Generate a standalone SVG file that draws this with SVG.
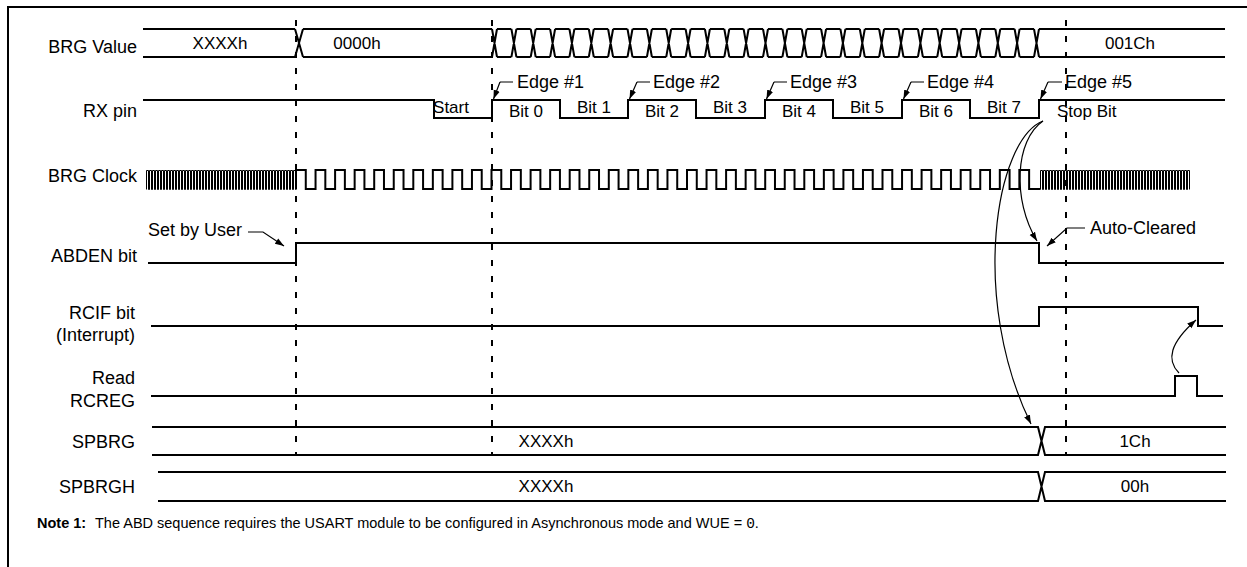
<svg xmlns="http://www.w3.org/2000/svg" width="1247" height="567" viewBox="0 0 1247 567">
<defs>
<style>
.w{fill:none;stroke:#000;stroke-width:2}
.t{fill:none;stroke:#000;stroke-width:1.2}
.f{fill:none;stroke:#000;stroke-width:1}
.d{fill:none;stroke:#000;stroke-width:2;stroke-dasharray:6 10}
.lb{font-family:"Liberation Sans",Arial,sans-serif;font-size:18px;fill:#000}
.tx{font-family:"Liberation Sans",Arial,sans-serif;font-size:17px;fill:#000}
.c{text-anchor:middle}
.e{text-anchor:end}
.nt{font-family:"Liberation Sans",Arial,sans-serif;font-size:14.5px;fill:#000}
</style>
<marker id="ah" viewBox="0 0 10 10" refX="10" refY="5" markerWidth="9" markerHeight="9" markerUnits="userSpaceOnUse" orient="auto">
<path d="M0,1.5 L10,5 L0,8.5 z" fill="#000"/>
</marker>
</defs>
<rect x="0" y="0" width="1247" height="567" fill="#fff"/>
<rect id="frame" x="8" y="7" width="1260" height="580" fill="none" stroke="#000" stroke-width="2"/>

<g id="markers-dashed">
<path class="d" d="M296,20 V455 M492,20 V455 M1066,20 V455"/>
</g>

<g id="row-brg-value">
<text class="lb e" x="137" y="53">BRG Value</text>
<path class="w" d="M143,29 H295 M143,57 H295 M295,29 L303,57 M295,57 L303,29 M303,29 H492 M303,57 H492 M1039,29 H1225 M1039,57 H1225"/>
<path class="w" stroke-dasharray="14.357 5" d="M497,29 H1034 M497,57 H1034"/>
<path class="w" d="M492,29l5,28M492,57l5,-28M511.4,29l5,28M511.4,57l5,-28M530.7,29l5,28M530.7,57l5,-28M550.1,29l5,28M550.1,57l5,-28M569.4,29l5,28M569.4,57l5,-28M588.8,29l5,28M588.8,57l5,-28M608.1,29l5,28M608.1,57l5,-28M627.5,29l5,28M627.5,57l5,-28M646.9,29l5,28M646.9,57l5,-28M666.2,29l5,28M666.2,57l5,-28M685.6,29l5,28M685.6,57l5,-28M704.9,29l5,28M704.9,57l5,-28M724.3,29l5,28M724.3,57l5,-28M743.6,29l5,28M743.6,57l5,-28M763,29l5,28M763,57l5,-28M782.4,29l5,28M782.4,57l5,-28M801.7,29l5,28M801.7,57l5,-28M821.1,29l5,28M821.1,57l5,-28M840.4,29l5,28M840.4,57l5,-28M859.8,29l5,28M859.8,57l5,-28M879.1,29l5,28M879.1,57l5,-28M898.5,29l5,28M898.5,57l5,-28M917.9,29l5,28M917.9,57l5,-28M937.2,29l5,28M937.2,57l5,-28M956.6,29l5,28M956.6,57l5,-28M975.9,29l5,28M975.9,57l5,-28M995.3,29l5,28M995.3,57l5,-28M1014.6,29l5,28M1014.6,57l5,-28M1034,29l5,28M1034,57l5,-28"/>
<text class="tx c" x="220" y="49">XXXXh</text>
<text class="tx c" x="357" y="49">0000h</text>
<text class="tx c" x="1130" y="49">001Ch</text>
</g>

<g id="row-rx-pin">
<text class="lb e" x="137" y="117">RX pin</text>
<path class="w" d="M143,100 H434 V118 H492 V100 H560 V118 H628 V100 H696 V118 H765 V100 H833 V118 H902 V100 H970 V118 H1039 V100 H1225"/>
<text class="tx c" x="451" y="113">Start</text>
<text class="tx c" x="526" y="117">Bit 0</text>
<text class="tx c" x="594" y="113">Bit 1</text>
<text class="tx c" x="662" y="117">Bit 2</text>
<text class="tx c" x="730" y="113">Bit 3</text>
<text class="tx c" x="799" y="117">Bit 4</text>
<text class="tx c" x="867" y="113">Bit 5</text>
<text class="tx c" x="936" y="117">Bit 6</text>
<text class="tx c" x="1004" y="113">Bit 7</text>
<text class="tx" x="1057" y="117">Stop Bit</text>
<text class="lb" x="517" y="88">Edge #1</text>
<text class="lb" x="653" y="88">Edge #2</text>
<text class="lb" x="790" y="88">Edge #3</text>
<text class="lb" x="927" y="88">Edge #4</text>
<text class="lb" x="1065" y="88">Edge #5</text>
</g>

<g id="row-brg-clock">
<text class="lb e" x="137" y="182">BRG Clock</text>
<path class="f" d="M146.5,189.5 v-19h2v19h1v-19h2v19h1v-19h2v19h1v-19h2v19h1v-19h2v19h1 v-19h2v19h1v-19h2v19h1v-19h2v19h1v-19h2v19h1v-19h2v19h1 v-19h2v19h1v-19h2v19h1v-19h2v19h1v-19h2v19h1v-19h2v19h1 v-19h2v19h1v-19h2v19h1v-19h2v19h1v-19h2v19h1v-19h2v19h1 v-19h2v19h1v-19h2v19h1v-19h2v19h1v-19h2v19h1v-19h2v19h1 v-19h2v19h1v-19h2v19h1v-19h2v19h1v-19h2v19h1v-19h2v19h1 v-19h2v19h1v-19h2v19h1v-19h2v19h1v-19h2v19h1v-19h2v19h1 v-19h2v19h1v-19h2v19h1v-19h2v19h1v-19h2v19h1v-19h2v19h1 v-19h2v19h1v-19h2v19h1v-19h2v19h1v-19h2v19h1v-19h2v19h1 v-19h2v19h1v-19h2v19h1v-19h2v19h1v-19h2v19h1v-19h2v19h1"/>
<path class="w" d="M296,189 v-19h9.775v19h9.775v-19h9.775v19h9.775v-19h9.775v19h9.775v-19h9.775v19h9.775v-19h9.775v19h9.775 v-19h9.775v19h9.775v-19h9.775v19h9.775v-19h9.775v19h9.775v-19h9.775v19h9.775v-19h9.775v19h9.775 v-19h9.775v19h9.775v-19h9.775v19h9.775v-19h9.775v19h9.775v-19h9.775v19h9.775v-19h9.775v19h9.775 v-19h9.775v19h9.775v-19h9.775v19h9.775v-19h9.775v19h9.775v-19h9.775v19h9.775v-19h9.775v19h9.775 v-19h9.775v19h9.775v-19h9.775v19h9.775v-19h9.775v19h9.775v-19h9.775v19h9.775v-19h9.775v19h9.775 v-19h9.775v19h9.775v-19h9.775v19h9.775v-19h9.775v19h9.775v-19h9.775v19h9.775v-19h9.775v19h9.775 v-19h9.775v19h9.775v-19h9.775v19h9.775v-19h9.775v19h9.775v-19h9.775v19h9.775v-19h9.775v19h9.775 v-19h9.775v19h9.775v-19h9.775v19h9.775v-19h9.775v19h9.775 h1.5"/>
<path class="f" d="M1040.5,189.5 v-19h2v19h1v-19h2v19h1v-19h2v19h1v-19h2v19h1v-19h2v19h1 v-19h2v19h1v-19h2v19h1v-19h2v19h1v-19h2v19h1v-19h2v19h1 v-19h2v19h1v-19h2v19h1v-19h2v19h1v-19h2v19h1v-19h2v19h1 v-19h2v19h1v-19h2v19h1v-19h2v19h1v-19h2v19h1v-19h2v19h1 v-19h2v19h1v-19h2v19h1v-19h2v19h1v-19h2v19h1v-19h2v19h1 v-19h2v19h1v-19h2v19h1v-19h2v19h1v-19h2v19h1v-19h2v19h1 v-19h2v19h1v-19h2v19h1v-19h2v19h1v-19h2v19h1v-19h2v19h1 v-19h2v19h1v-19h2v19h1v-19h2v19h1v-19h2v19h1v-19h2v19h1 v-19h2v19h1v-19h2v19h1v-19h2v19h1v-19h2v19h1v-19h2v19h1 v-19h2v19h1v-19h2v19h1v-19h2v19h1v-19h2v19h1v-19h2v19"/>
</g>

<g id="row-abden">
<text class="lb e" x="137" y="262">ABDEN bit</text>
<path class="w" d="M148,263 H296 V243 H1039 V263 H1224"/>
<text class="lb" x="148" y="236">Set by User</text>
<text class="lb" x="1090" y="234">Auto-Cleared</text>
</g>

<g id="row-rcif">
<text class="lb e" x="135" y="319">RCIF bit</text>
<text class="lb e" x="135" y="341">(Interrupt)</text>
<path class="w" d="M151,326 H1039 V307 H1198 V326 H1223"/>
</g>

<g id="row-read-rcreg">
<text class="lb e" x="135" y="384">Read</text>
<text class="lb e" x="135" y="407">RCREG</text>
<path class="w" d="M151,396 H1175 V376 H1197 V396 H1223"/>
</g>

<g id="row-spbrg">
<text class="lb e" x="135" y="448">SPBRG</text>
<path class="w" d="M152,427 H1038 L1045,455 H1226 M152,455 H1038 L1045,427 H1226"/>
<text class="tx c" x="546" y="447">XXXXh</text>
<text class="tx c" x="1135" y="447">1Ch</text>
</g>

<g id="row-spbrgh">
<text class="lb e" x="135" y="493">SPBRGH</text>
<path class="w" d="M158,472 H1038 L1045,501 H1226 M158,501 H1038 L1045,472 H1226"/>
<text class="tx c" x="546" y="492">XXXXh</text>
<text class="tx c" x="1135" y="492">00h</text>
</g>

<g id="connectors">
<path class="t" d="M500,82 H513 M500,82 L493.5,99" marker-end="url(#ah)"/>
<path class="t" d="M637,82 H650 M637,82 L629.5,99" marker-end="url(#ah)"/>
<path class="t" d="M774,82 H787 M774,82 L766.5,99" marker-end="url(#ah)"/>
<path class="t" d="M911,82 H924 M911,82 L903.5,99" marker-end="url(#ah)"/>
<path class="t" d="M1048,82 H1062 M1048,82 L1040.5,99" marker-end="url(#ah)"/>
<path class="t" d="M248,232 H263 L284,246" marker-end="url(#ah)"/>
<path class="t" d="M1085,228 H1067 L1047,246" marker-end="url(#ah)"/>
<path class="t" d="M1043,121 C995,140 970,300 1031,424" marker-end="url(#ah)"/>
<path class="t" d="M1043,121 C1015,140 1012,200 1037,241" marker-end="url(#ah)"/>
<path class="t" d="M1179,373 C1166,360 1170,343 1196,320" marker-end="url(#ah)"/>
</g>

<g id="note">
<text class="nt" x="37" y="528"><tspan font-weight="bold">Note 1:</tspan></text>
<text class="nt" x="95" y="528">The ABD sequence requires the USART module to be configured in Asynchronous mode and WUE = <tspan font-family="'Liberation Mono',monospace">0</tspan>.</text>
</g>
</svg>
